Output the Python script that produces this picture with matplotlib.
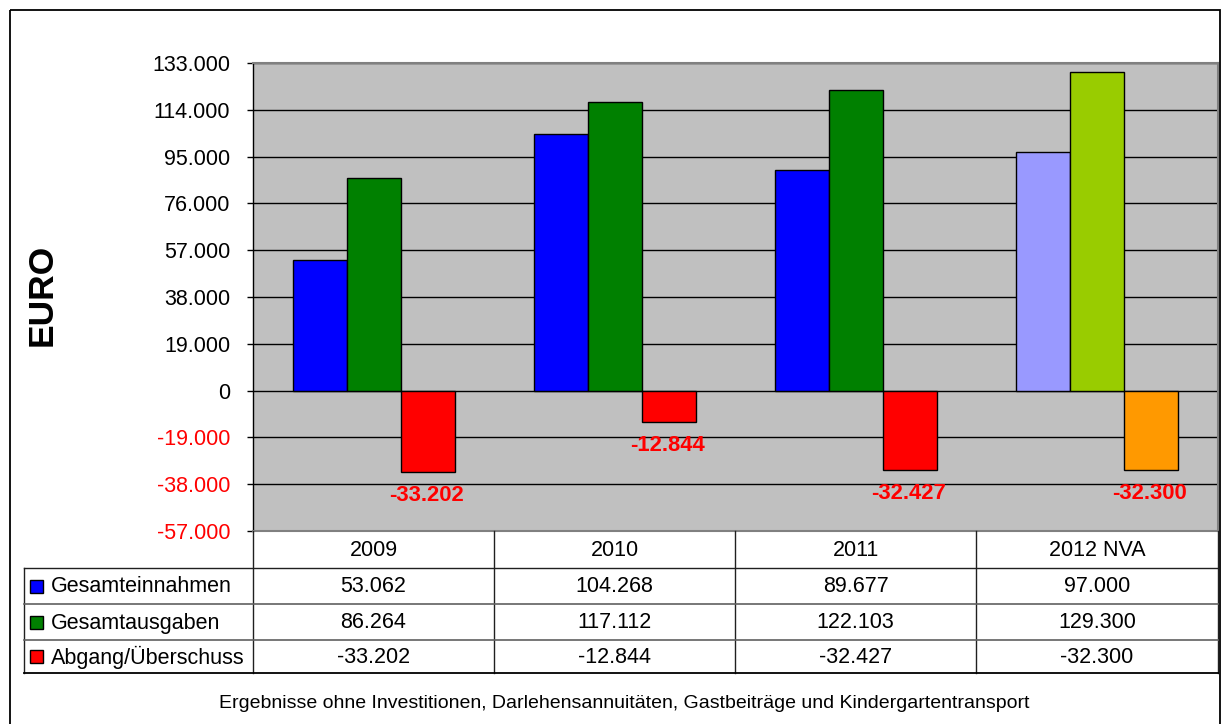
import matplotlib
matplotlib.use("Agg")
import matplotlib.pyplot as plt
from matplotlib.patches import Rectangle

plt.rcParams['font.family'] = ['Liberation Sans', 'DejaVu Sans']

categories = ["2009", "2010", "2011", "2012 NVA"]
series_names = ["Gesamteinnahmen", "Gesamtausgaben", "Abgang/Überschuss"]
einnahmen = [53062, 104268, 89677, 97000]
ausgaben = [86264, 117112, 122103, 129300]
abgang = [-33202, -12844, -32427, -32300]
series = [einnahmen, ausgaben, abgang]
series_colors = ["#0000FF", "#008000", "#FF0000"]
last_colors = ["#9999FF", "#99CC00", "#FF9900"]
y_ticks = [-57000, -38000, -19000, 0, 19000, 38000, 57000, 76000, 95000, 114000, 133000]
footnote = "Ergebnisse ohne Investitionen, Darlehensannuitäten, Gastbeiträge und Kindergartentransport"

W, H = 1223, 724
fig = plt.figure(figsize=(W / 100, H / 100), dpi=100)

L, R, T, B = 253, 1218, 63, 531
ax = fig.add_axes([L / W, 1 - B / H, (R - L) / W, (B - T) / H])
ax.set_facecolor("#C0C0C0")
ax.set_xlim(-0.5, len(categories) - 0.5)
ax.set_ylim(y_ticks[0], y_ticks[-1])
ax.set_yticks(y_ticks)
ax.set_yticklabels([f"{v:,.0f}".replace(",", ".") for v in y_ticks], fontsize=15.5)
for lbl, v in zip(ax.get_yticklabels(), y_ticks):
    lbl.set_color("#FF0000" if v < 0 else "black")
ax.tick_params(axis='y', length=4.3, width=1, pad=12, color='black')
ax.set_xticks([])
ax.grid(axis='y', color='black', lw=1)
ax.set_axisbelow(True)
for s in ax.spines.values():
    s.set_color("#808080")
    s.set_linewidth(1.5)
ax.spines['left'].set_color('black')
ax.spines['left'].set_linewidth(1)

bw = 54 / ((R - L) / len(categories))
offsets = [-bw, 0, bw]
for si, vals in enumerate(series):
    cols = [series_colors[si]] * (len(categories) - 1) + [last_colors[si]]
    xs = [i + offsets[si] for i in range(len(categories))]
    ax.bar(xs, vals, width=bw, color=cols, edgecolor='black', linewidth=1, zorder=3)
    if si == 2:
        for x, v in zip(xs, vals):
            ax.annotate(f"{v:,.0f}".replace(",", "."), (x, v), xytext=(-1, -16.5),
                        textcoords='offset points', ha='center', va='center',
                        color='#FF0000', fontsize=15.8, fontweight='bold', zorder=4)

# overlay for table and frame
ov = fig.add_axes([0, 0, 1, 1], zorder=5)
ov.set_xlim(0, W)
ov.set_ylim(H, 0)
ov.axis('off')
ov.patch.set_alpha(0)

ov.add_patch(Rectangle((10, 10), 1210, 740, fill=False, ec='black', lw=1.3))

col_edges = [253, 494, 735, 976, 1218]
row_edges = [531, 568, 604, 640, 673]
TL = 24
for x in col_edges:
    ov.plot([x, x], [row_edges[0], row_edges[-1]], color='#202020', lw=1)
ov.plot([TL, TL], [row_edges[1], row_edges[-1]], color='#202020', lw=1)
ov.plot([TL, 1218], [row_edges[1], row_edges[1]], color='#202020', lw=1)
for y in row_edges[2:4]:
    ov.plot([TL, 1218], [y, y], color='#606060', lw=1.2)
ov.plot([TL, 1218], [row_edges[-1], row_edges[-1]], color='black', lw=1.3)

for j, c in enumerate(categories):
    xc = (col_edges[j] + col_edges[j + 1]) / 2
    ov.text(xc, (row_edges[0] + row_edges[1]) / 2 + 1, c, ha='center', va='center', fontsize=15.5)
for i, (name, vals) in enumerate(zip(series_names, series)):
    yc = (row_edges[i + 1] + row_edges[i + 2]) / 2 + 1
    ov.add_patch(Rectangle((30, yc - 7.5), 13, 13, fc=series_colors[i], ec='black', lw=1))
    ov.text(51, yc, name, ha='left', va='center', fontsize=15.5)
    for j, v in enumerate(vals):
        xc = (col_edges[j] + col_edges[j + 1]) / 2
        ov.text(xc, yc, f"{v:,.0f}".replace(",", "."), ha='center', va='center', fontsize=15.5)

ov.text(42, 295, "EURO", rotation=90, ha='center', va='center', fontsize=25.5, fontweight='bold')
ov.text(624, 704, footnote, ha='center', va='center', fontsize=14)

fig.savefig("out.png", dpi=100)
